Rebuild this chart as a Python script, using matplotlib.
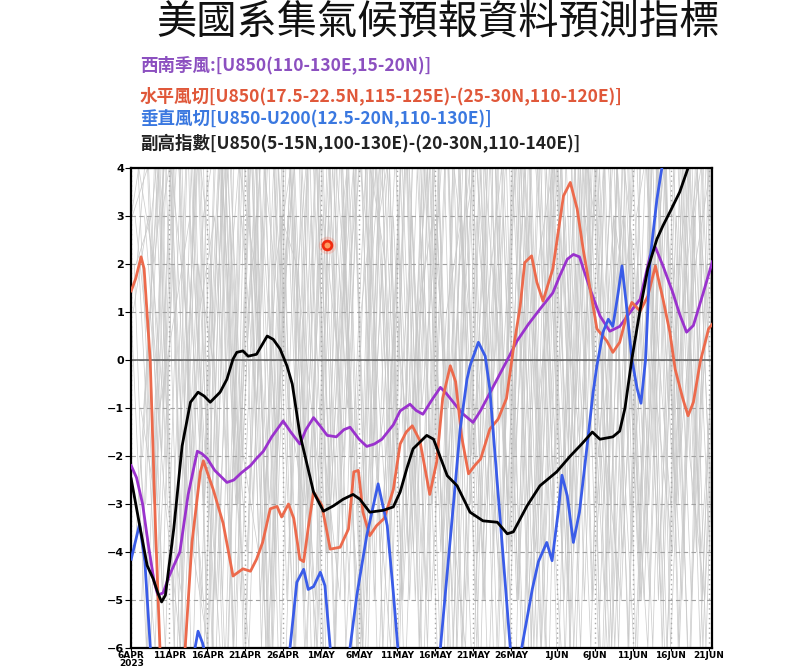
#!/usr/bin/env python3
"""Ensemble forecast indices (spaghetti + 4 highlighted indices)."""

import numpy as np
import pandas as pd
import matplotlib
matplotlib.use("Agg")
import matplotlib.pyplot as plt
import matplotlib.dates as mdates
from matplotlib.ticker import FuncFormatter

# ---------------------------------------------------------------------------
# Data (days since 2023-04-06)
# ---------------------------------------------------------------------------

START = pd.Timestamp("2023-04-06")

TITLE = "美國系集氣候預報資料預測指標"
LABELS = [
    "西南季風:[U850(110-130E,15-20N)]",
    "水平風切[U850(17.5-22.5N,115-125E)-(25-30N,110-120E)]",
    "垂直風切[U850-U200(12.5-20N,110-130E)]",
    "副高指數[U850(5-15N,100-130E)-(20-30N,110-140E)]",
]

purple_days = [0, 0.7, 1.5, 2.3, 3.0, 3.5, 4.2, 5.0, 6.4, 7.5, 8.7, 9.3, 10.0, 11.0,
               12.6, 13.5, 14.5, 15.7, 16.5, 17.4, 18.5, 20.0, 21.0, 22.2, 23.0,
               24.0, 25.0, 25.8, 27.0, 28.0, 28.8, 30.0, 31.0, 32.0, 33.0, 34.5,
               35.4, 36.7, 37.5, 38.4, 39.5, 40.7, 41.5, 42.4, 43.5, 45.0, 46.0,
               47.0, 48.0, 49.5, 50.8, 52.3, 53.8, 55.5, 56.4, 57.4, 58.2, 59.0,
               60.4, 61.7, 63.0, 64.3, 65.7, 67.0, 68.3, 69.0, 70.0, 71.3, 72.2,
               73.1, 74.0, 75.3, 76.5]
purple_vals = [-2.2, -2.45, -3.0, -3.9, -4.6, -4.9, -4.85, -4.5, -4.0, -2.8, -1.9,
               -1.95, -2.05, -2.3, -2.55, -2.5, -2.35, -2.2, -2.05, -1.9, -1.6,
               -1.27, -1.5, -1.75, -1.45, -1.2, -1.4, -1.57, -1.6, -1.45, -1.4,
               -1.65, -1.8, -1.75, -1.65, -1.35, -1.06, -0.92, -1.05, -1.13, -0.85,
               -0.57, -0.7, -0.88, -1.1, -1.3, -1.05, -0.75, -0.45, 0.0, 0.4, 0.75,
               1.06, 1.4, 1.75, 2.1, 2.2, 2.15, 1.48, 0.92, 0.6, 0.7, 1.0, 1.27,
               2.17, 2.35, 1.96, 1.4, 0.95, 0.58, 0.72, 1.4, 2.05]

red_days = [0, 0.6, 1.3, 1.7, 2.5, 3.2, 3.9, 5.5, 7.1, 8.0, 9.1, 9.5, 10.8, 12.1,
            13.4, 14.7, 15.7, 16.5, 17.3, 18.3, 19.2, 19.8, 20.7, 21.4, 22.2, 22.7,
            23.3, 24.0, 25.1, 26.2, 27.5, 28.6, 29.3, 29.9, 30.5, 31.4, 32.3, 33.3,
            34.5, 35.4, 36.2, 37.0, 38.0, 39.3, 40.2, 41.0, 42.0, 42.7, 43.5, 44.4,
            45.2, 46.0, 47.2, 48.3, 49.4, 50.3, 51.2, 51.8, 52.7, 53.4, 54.2, 55.5,
            56.9, 57.8, 58.7, 59.5, 60.8, 61.3, 62.6, 63.4, 64.3, 65.2, 65.9, 67.0,
            68.0, 69.0, 70.0, 70.9, 71.6, 72.6, 73.3, 74.0, 74.9, 76.0, 76.5]
red_vals = [1.44, 1.7, 2.15, 1.9, 0.0, -3.5, -6.5, -8.0, -6.0, -3.8, -2.33, -2.1,
            -2.7, -3.4, -4.5, -4.35, -4.4, -4.15, -3.8, -3.1, -3.05, -3.27, -3.0,
            -3.3, -4.15, -4.2, -3.5, -2.75, -3.03, -3.94, -3.9, -3.52, -2.33, -2.3,
            -3.17, -3.66, -3.45, -3.3, -2.7, -1.75, -1.5, -1.37, -1.68, -2.8, -2.13,
            -0.8, -0.12, -0.45, -1.6, -2.37, -2.2, -2.06, -1.44, -1.23, -0.8, 0.23,
            1.12, 2.03, 2.17, 1.62, 1.23, 1.9, 3.42, 3.7, 3.15, 2.3, 1.12, 0.65,
            0.4, 0.16, 0.37, 0.92, 1.2, 1.02, 1.33, 1.96, 1.27, 0.58, -0.19, -0.8,
            -1.16, -0.88, -0.04, 0.65, 0.75]

blue_days = [0, 1.1, 1.8, 2.5, 3.5, 7.5, 8.4, 8.8, 9.4, 10.0, 15.0, 20.0, 20.9,
             21.8, 22.7, 23.3, 24.0, 24.9, 25.5, 26.2, 27.0, 28.0, 28.8, 29.7, 31.0,
             32.5, 33.7, 34.5, 35.1, 36.5, 39.5, 40.7, 42.4, 43.3, 44.2, 44.6, 45.7,
             46.6, 47.2, 48.6, 49.9, 50.7, 51.4, 52.8, 53.6, 54.7, 55.4, 56.2, 56.7,
             57.4, 58.2, 59.0, 60.0, 60.8, 61.3, 62.1, 62.8, 63.4, 64.1, 64.6, 65.2,
             65.9, 66.6, 67.1, 67.7, 68.3, 69.2, 69.9, 70.5]
blue_vals = [-4.15, -3.42, -4.2, -5.95, -8.0, -8.0, -6.0, -5.65, -5.9, -6.3, -9.0,
             -8.0, -6.0, -4.63, -4.36, -4.78, -4.72, -4.42, -4.7, -6.0, -8.0, -8.0,
             -6.0, -4.9, -3.66, -2.58, -3.45, -4.84, -6.0, -9.0, -9.0, -6.0, -3.03,
             -1.44, -0.4, -0.12, 0.37, 0.08, -0.6, -3.38, -6.0, -8.0, -6.0, -4.77,
             -4.2, -3.8, -4.18, -3.17, -2.4, -2.83, -3.8, -3.17, -1.8, -0.67, -0.12,
             0.58, 0.85, 0.7, 1.4, 1.96, 1.12, 0.02, -0.6, -0.9, 0.0, 2.1, 3.35,
             4.05, 5.0]

black_days = [0, 1.2, 2.1, 2.9, 3.5, 4.0, 4.5, 5.6, 6.7, 7.8, 8.8, 9.6, 10.4, 11.7,
              12.6, 13.4, 13.9, 14.7, 15.4, 16.5, 17.9, 18.7, 19.6, 20.5, 21.2, 22.2,
              24.0, 25.3, 26.6, 27.9, 29.2, 30.1, 31.4, 33.2, 34.5, 35.4, 36.3, 37.1,
              38.9, 39.8, 41.6, 42.9, 44.6, 46.3, 48.2, 49.5, 50.3, 52.1, 53.8, 56.0,
              57.8, 59.3, 60.7, 61.7, 63.4, 64.3, 65.0, 65.9, 67.0, 68.0, 69.2, 70.0,
              70.9, 72.2, 73.3, 74.5]
black_vals = [-2.48, -3.52, -4.28, -4.56, -4.85, -5.04, -4.9, -3.52, -1.79, -0.88,
              -0.67, -0.75, -0.88, -0.67, -0.4, 0.02, 0.16, 0.19, 0.08, 0.12, 0.5,
              0.43, 0.23, -0.12, -0.5, -1.54, -2.75, -3.15, -3.04, -2.9, -2.8, -2.9,
              -3.17, -3.13, -3.06, -2.75, -2.25, -1.85, -1.57, -1.65, -2.41, -2.62,
              -3.17, -3.35, -3.38, -3.62, -3.58, -3.04, -2.62, -2.33, -2.0, -1.75,
              -1.5, -1.65, -1.6, -1.48, -1.0, 0.02, 1.06, 1.9, 2.52, 2.8, 3.08, 3.5,
              4.0, 4.5]

# ensemble members (grey spaghetti), one value every 2 days
gray_members = [
    [3, 5, -2, 6, -7, 4, -5, 7, -3, 5, -8, 2, 6, -4, 3, -7, 5, -1, 6, -6, 2, 7, -5, 4, -8, 3, 6, -3, 5, -7, 1, 6, -5, 4, -2, 7, -6, 3, 5],
    [2, -4, 6, -1, 5, -7, 3, -6, 6, -2, 4, -7, 5, -3, 7, -5, 2, -8, 4, 6, -4, 1, -7, 5, -2, 6, -6, 3, -5, 7, -1, -7, 4, -3, 6, -6, 2, -4, 1],
    [3, 0, -6, 4, 6, -3, -8, 5, 1, -5, 7, -2, -6, 4, -1, 6, -7, 3, -4, 5, -2, -8, 6, 2, -5, 4, -7, 7, -3, 2, -6, 5, -1, -7, 6, 1, -5, 4, -1],
    [-2, 4, -5, 2, -3, 6, -6, 1, 5, -7, 3, -4, 6, -1, -7, 4, 2, -5, 7, -3, 5, -6, 3, -1, 6, -7, 2, 4, -4, 6, -2, 3, -6, 7, -4, 2, -7, 5, 0],
    [1, -6, 3, 5, -2, -6, 4, -3, 7, -6, 1, 5, -8, 3, -2, 6, -5, 4, -7, 2, 6, -3, -6, 5, 1, -4, 7, -6, 2, -3, 5, -8, 4, -1, -6, 5, -3, 6, -2],
    [4, 2, 5, -7, 1, 3, -4, 6, -5, 2, 4, -6, 1, 7, -3, -7, 5, -2, 3, -6, 7, -1, 4, -7, 3, -5, 6, -2, -7, 5, 3, -4, 6, -5, 1, -3, 6, -1, 3],
    [-4, 1, -3, -6, 5, 2, -7, 3, -1, 6, -5, 4, -3, 5, 1, -6, 3, 6, -4, 2, -7, 4, 1, -5, 6, -2, 3, -6, 4, -1, 6, -2, -5, 3, 5, -6, 1, 4, -4],
    [-3, -5, 2, -4, 3, 5, -2, -6, 4, 1, -6, 6, -2, -5, 5, 2, -3, 4, 6, -5, 1, 3, -6, 6, -3, 5, -1, 2, -5, 4, -6, 3, 1, -5, 3, 6, -2, -5, 2],
    [1, 3, -1, 5, -4, 2, -7, 4, 2, -3, 6, 0, -5, 7, -6, 1, 4, -3, 5, -1, 3, -5, 5, -4, 1, 7, -5, 0, 6, -4, 2, -3, 5, 2, -5, 4, -2, 2, 4],
    [-1, -3, 4, 1, -5, 6, 0, -4, 3, -2, 5, -3, 3, 0, 4, -4, -1, 6, -3, 4, -5, 2, 5, -2, -6, 2, -4, 5, 1, -2, 4, -6, 2, 6, -1, -4, 4, -6, 3],
    [2, 6, -3, -5, 2, 0, 5, -2, -4, 4, -1, -3, 4, -6, 2, 5, -4, 1, -2, 5, -4, 6, -2, 1, 4, -5, 5, 1, -4, 6, -5, 0, 3, -4, 5, -1, 3, -3, 6],
    [3, -1, 1, 3, -2, 5, -3, 2, -6, 3, 2, -1, -4, 3, 6, -2, 4, -5, 1, 3, -1, 5, -4, 2, -3, 4, -3, 6, -6, 3, 0, 5, -3, 1, -5, 3, -5, 2, -3],
    [2, -7, 5, -6, 4, -8, 6, -5, 3, -7, 6, -4, 5, -8, 4, -6, 7, -3, 5, -7, 4, -6, 6, -5, 3, -8, 5, -4, 6, -7, 4, -5, 7, -6, 3, -7, 5, -4, 6],
    [-5, 6, -4, 5, -7, 3, -6, 7, -5, 4, -6, 5, -7, 6, -3, 5, -8, 4, -5, 6, -7, 3, -5, 7, -4, 5, -6, 4, -8, 6, -3, 5, -6, 7, -5, 4, -7, 6, -4],
    [4, -3, 7, -6, 2, -5, 6, -7, 4, -4, 7, -5, 3, -6, 6, -4, 5, -7, 3, -5, 6, -6, 4, -3, 7, -5, 2, -7, 6, -4, 5, -6, 3, -5, 7, -4, 4, -6, 2],
    [-3, 5, -7, 4, -5, 6, -3, 5, -7, 3, -5, 7, -4, 2, -6, 5, -4, 6, -6, 4, -3, 5, -7, 6, -5, 3, -6, 5, -2, 6, -7, 4, -4, 5, -6, 6, -3, 5, -5],
    [3, 4, -5, 7, -4, -6, 5, -3, 6, -7, 2, 5, -6, 4, -5, 7, -2, -6, 5, -4, 6, -7, 3, 5, -6, 4, -3, 6, -7, 5, -2, 4, -6, 6, -3, 5, -6, 3, -4],
    [-2, -6, 4, -3, 6, -5, 2, 6, -6, 5, -3, 4, -7, 6, -2, 5, -6, 3, -4, 7, -5, 4, -2, 6, -6, 2, 7, -4, 3, -6, 5, -3, 6, -5, 4, -2, 6, -5, 3],
    [2, 3, 6, -4, 5, -6, 4, -2, 5, -6, 3, -5, 6, -3, 4, -7, 3, 5, -5, 4, -6, 6, -3, 3, -5, 6, -6, 4, -3, 5, -5, 6, -4, 2, -6, 5, -4, 6, -2],
    [-1, 4, -6, 6, -3, 4, -7, 5, -3, 6, -6, 3, -4, 5, -6, 2, 6, -5, 4, -3, 5, -6, 6, -4, 2, -6, 5, -3, 6, -5, 4, -6, 3, -4, 6, -3, 5, -6, 4],
]
gray_offsets = [0, 1, 0.5, 1.5, 0, 1, 0.5, 1.5, 0.25, 1.25, 0.75, 1.75,
                0.4, 1.4, 0.9, 1.9, 0.15, 1.15, 0.65, 1.65]

marker_day, marker_val = 25.8, 2.4

# ---------------------------------------------------------------------------
# Style
# ---------------------------------------------------------------------------

CJK = ["Noto Sans CJK TC", "DejaVu Sans"]
C_PURPLE = "#9a32cd"
C_RED = "#ec6a4c"
C_BLUE = "#3a5ce8"
C_BLACK = "#000000"
TXT_COLORS = ["#8c50c0", "#e0583a", "#3a78e0", "#222222"]


def to_dates(days):
    return START + pd.to_timedelta(np.asarray(days, dtype=float), unit="D")


def main():
    fig = plt.figure(figsize=(8.0, 6.7), dpi=100)
    ax = fig.add_axes([0.164, 0.0328, 0.726, 0.7164])

    # grey spaghetti
    for member, off in zip(gray_members, gray_offsets):
        days = off + 2.0 * np.arange(len(member))
        ax.plot(to_dates(days), member, color="#c8c8c8", lw=0.55, alpha=0.9, zorder=1)

    # grid
    ax.grid(axis="y", color="#a0a0a0", linestyle=(0, (4, 3)), lw=0.8, zorder=2)
    ax.grid(axis="x", color="#a8a8a8", linestyle=(0, (1, 2.5)), lw=1.0, zorder=2)
    ax.axhline(0, color="#666666", lw=1.2, zorder=2)

    # highlighted indices
    ax.plot(to_dates(purple_days), purple_vals, color=C_PURPLE, lw=2.0, zorder=4)
    ax.plot(to_dates(red_days), red_vals, color=C_RED, lw=2.0, zorder=4)
    ax.plot(to_dates(blue_days), blue_vals, color=C_BLUE, lw=2.0, zorder=4)
    ax.plot(to_dates(black_days), black_vals, color=C_BLACK, lw=2.0, zorder=5)

    # highlighted point
    md = to_dates([marker_day])
    ax.scatter(md, [marker_val], s=160, color="#ff4020", alpha=0.18, lw=0, zorder=6)
    ax.scatter(md, [marker_val], s=40, facecolor="#ff9a60", edgecolor="#f02a10",
               lw=2.0, zorder=7)

    ax.set_ylim(-6, 4)
    ax.set_xlim(to_dates([0])[0], to_dates([76.45])[0])
    ax.set_yticks(range(-6, 5))
    ax.yaxis.set_major_formatter(FuncFormatter(lambda v, p: f"{int(v)}".replace("-", "\u2212")))

    ax.xaxis.set_major_locator(mdates.DayLocator(bymonthday=[1, 6, 11, 16, 21, 26]))

    def fmt_date(v, pos):
        d = mdates.num2date(v)
        s = f"{d.day}{d.strftime('%b').upper()}"
        if pos == 0:
            s += "\n2023"
        return s

    ax.xaxis.set_major_formatter(FuncFormatter(fmt_date))
    ax.tick_params(axis="x", labelsize=6.5, length=2, pad=0.5)
    ax.tick_params(axis="y", labelsize=8, length=4, pad=1)
    for lab in ax.get_xticklabels():
        lab.set_fontweight("bold")
        lab.set_linespacing(0.75)
    for lab in ax.get_yticklabels():
        lab.set_fontweight("bold")

    for side in ("left", "right"):
        ax.spines[side].set_linewidth(1.6)
    for side in ("top", "bottom"):
        ax.spines[side].set_linewidth(1.6)
        ax.spines[side].set_linestyle((0, (2, 1)))

    # title and legend text
    fig.text(0.548, 0.967, TITLE, ha="center", va="center", fontsize=29,
             family=CJK, fontweight="normal", color="#111111")
    ys = [0.904, 0.857, 0.822, 0.786]
    for label, y, c in zip(LABELS, ys, TXT_COLORS):
        fig.text(0.175, y, label, ha="left", va="center", fontsize=12.6,
                 family=CJK, fontweight="bold", color=c)

    fig.savefig("out.png", dpi=100)


if __name__ == "__main__":
    main()
